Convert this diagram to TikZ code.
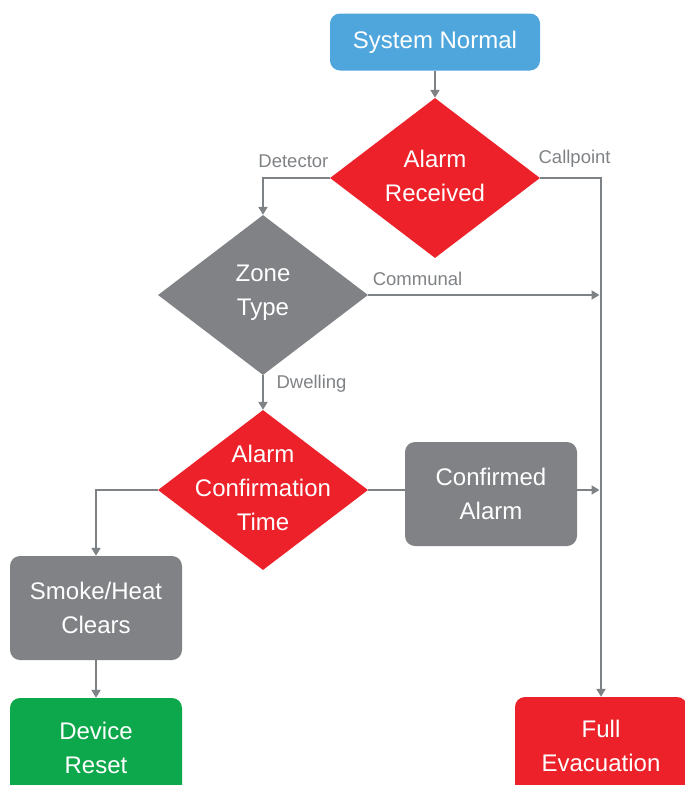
\documentclass[tikz,border=0pt]{standalone}
\usepackage{fontspec}
\setmainfont{Liberation Sans}
\usetikzlibrary{shapes.geometric,arrows.meta,positioning}
\definecolor{normalblue}{HTML}{4FA6DC}
\definecolor{alarmred}{HTML}{ED2129}
\definecolor{boxgray}{HTML}{808285}
\definecolor{resetgreen}{HTML}{0DA84B}
\definecolor{linegray}{HTML}{7F8285}
\tikzset{
  stepbox/.style={rectangle, rounded corners=10pt, text=white, align=center,
    font=\fontsize{24}{34}\selectfont, minimum width=172pt, minimum height=104pt, inner sep=0pt},
  decision/.style={diamond, inner sep=0pt, minimum width=210pt, minimum height=160pt},
  dtxt/.style={text=white, align=center, font=\fontsize{24}{34}\selectfont, yshift=2.5pt},
  flow/.style={draw=linegray, line width=2.6pt, -{Triangle[length=8pt,width=9pt]}},
  plain/.style={draw=linegray, line width=2.6pt},
  lbl/.style={text=linegray, font=\fontsize{18.5}{22}\selectfont}
}

\begin{document}
\begin{tikzpicture}[x=1pt, y=1pt, node distance=136pt]
    \useasboundingbox (0,0) rectangle (685,-785);

    \node[stepbox, fill=normalblue, minimum width=210pt, minimum height=57pt] (normal) at (435,-42) {System Normal};
    \node[decision, fill=alarmred, below of=normal, node distance=136pt,
      label={[dtxt]center:Alarm\\Received}] (recv) {};
    \coordinate[left of=recv, node distance=172pt] (vdet);
    \coordinate[right of=recv, node distance=166pt] (vcall);

    \node[decision, fill=boxgray, below of=vdet, node distance=117pt,
      label={[dtxt]center:Zone\\Type}] (zone) {};
    \node[decision, fill=alarmred, below of=zone, node distance=195pt,
      label={[dtxt]center:Alarm\\Confirmation\\Time}] (conftime) {};
    \node[stepbox, fill=boxgray, right of=conftime, node distance=228pt, yshift=-4pt] (confirmed) {Confirmed\\Alarm};

    \coordinate[left of=conftime, node distance=167pt] (vsmoke);
    \node[stepbox, fill=boxgray, below of=vsmoke, node distance=118pt] (smoke) {Smoke/Heat\\Clears};
    \node[stepbox, fill=resetgreen, below of=smoke, node distance=140pt, minimum height=100pt] (reset) {Device\\Reset};
    \node[stepbox, fill=alarmred, below of=vcall, node distance=568pt, minimum height=98pt] (evac) {Full\\Evacuation};

    % connectors
    \draw[flow] (normal) -- (recv);
    \draw[flow] (recv.west) -| node[lbl, pos=0.25, above=6pt, xshift=-3pt] {Detector} (zone.north);
    \draw[flow] (recv.east) -| node[lbl, pos=0.25, above=6pt, xshift=4pt] {Callpoint} (evac.north);
    \draw[flow, shorten >=1.5pt] (zone.east) -- node[lbl, pos=0, above right=5pt and 0pt] {Communal} (zone.east -| vcall);
    \draw[flow] (zone.south) -- node[lbl, pos=0.25, right=9pt] {Dwelling} (conftime.north);
    \draw[plain] (conftime.east) -- (conftime.east -| confirmed.west);
    \draw[flow, shorten >=1.5pt] (confirmed.east |- conftime) -- (conftime -| vcall);
    \draw[flow] (conftime.west) -| (smoke.north);
    \draw[flow] (smoke) -- (reset);
\end{tikzpicture}
\end{document}
